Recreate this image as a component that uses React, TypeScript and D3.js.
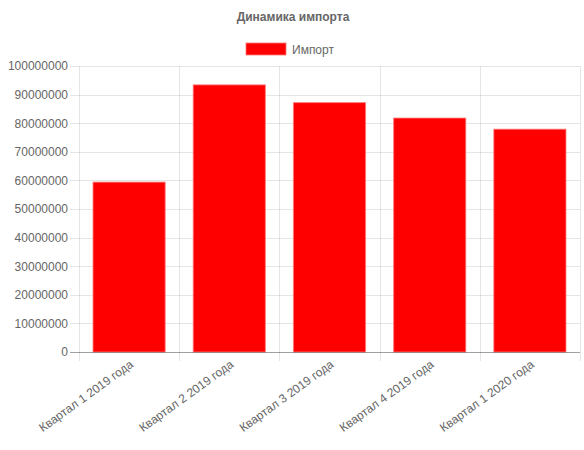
import { useEffect, useRef } from "react";
import * as d3 from "d3";

const categories = [
  "Квартал 1 2019 года",
  "Квартал 2 2019 года",
  "Квартал 3 2019 года",
  "Квартал 4 2019 года",
  "Квартал 1 2020 года",
];
const importValues = [59400000, 93400000, 87200000, 81800000, 77900000];
const yTicks = d3.range(0, 100000001, 10000000);

const FONT = "'Liberation Sans', Arial, Helvetica, sans-serif";
const W = 584;
const H = 450;

export default function App() {
  const svgRef = useRef<SVGSVGElement>(null);

  useEffect(() => {
    if (!svgRef.current) return;
    const svg = d3.select(svgRef.current);
    svg.selectAll("*").remove();

    const margin = { top: 66, right: 4, bottom: 98, left: 79 };
    const innerW = W - margin.left - margin.right;
    const innerH = H - margin.top - margin.bottom;

    // title
    svg
      .append("text")
      .attr("x", W / 2 + 1)
      .attr("y", 21)
      .attr("text-anchor", "middle")
      .attr("fill", "#666")
      .attr("font-size", "12px")
      .attr("font-weight", "bold")
      .attr("font-family", FONT)
      .text("Динамика импорта");

    // legend
    svg
      .append("rect")
      .attr("x", 246)
      .attr("y", 43)
      .attr("width", 40)
      .attr("height", 12)
      .attr("fill", "#ff0000")
      .attr("stroke", "rgba(255,120,120,0.8)")
      .attr("stroke-width", 1);
    svg
      .append("text")
      .attr("x", 292)
      .attr("y", 53.5)
      .attr("fill", "#666")
      .attr("font-size", "12px")
      .attr("font-family", FONT)
      .text("Импорт");

    const g = svg
      .append("g")
      .attr("transform", `translate(${margin.left},${margin.top})`);

    const x = d3.scaleBand().domain(categories).range([0, innerW]);
    const y = d3.scaleLinear().domain([0, 100000000]).range([innerH, 0]);

    // horizontal grid + y labels
    g.append("g")
      .call(
        d3
          .axisLeft(y)
          .tickValues(yTicks)
          .tickSize(-innerW)
          .tickPadding(11)
          .tickFormat(d3.format("d"))
      )
      .call((axis) => {
        axis.select(".domain").remove();
        axis
          .selectAll(".tick line")
          .attr("x1", -9)
          .attr("stroke", "rgba(0,0,0,0.1)")
          .attr("shape-rendering", "crispEdges");
        axis
          .selectAll("text")
          .attr("fill", "#666")
          .attr("font-size", "12px")
          .attr("font-family", FONT);
      });

    // vertical grid lines at category boundaries
    const bounds = categories.map((c) => x(c)!).concat([innerW]);
    g.append("g")
      .selectAll("line")
      .data(bounds)
      .join("line")
      .attr("x1", (d) => Math.round(d) + 0.5)
      .attr("x2", (d) => Math.round(d) + 0.5)
      .attr("y1", 0)
      .attr("y2", innerH + 9)
      .attr("stroke", "rgba(0,0,0,0.1)");

    // bars
    const bw = x.bandwidth() * 0.72;
    g.selectAll("rect.bar")
      .data(importValues)
      .join("rect")
      .attr("class", "bar")
      .attr("x", (_, i) => x(categories[i])! + (x.bandwidth() - bw) / 2)
      .attr("y", (d) => y(d))
      .attr("width", bw)
      .attr("height", (d) => innerH - y(d))
      .attr("fill", "#ff0000")
      .attr("stroke", "rgba(255,120,120,0.8)")
      .attr("stroke-width", 1);

    // zero line
    g.append("line")
      .attr("x1", -9)
      .attr("x2", innerW)
      .attr("y1", innerH + 0.5)
      .attr("y2", innerH + 0.5)
      .attr("stroke", "rgba(0,0,0,0.3)");

    // x labels
    g.append("g")
      .selectAll("text")
      .data(categories)
      .join("text")
      .attr(
        "transform",
        (c) =>
          `translate(${x(c)! + x.bandwidth() / 2 + 5},${innerH + 14}) rotate(-36)`
      )
      .attr("text-anchor", "end")
      .attr("fill", "#666")
      .attr("font-size", "12px")
      .attr("font-family", FONT)
      .text((c) => c);
  }, []);

  return (
    <svg
      ref={svgRef}
      width={W}
      height={H}
      style={{ position: "absolute", left: 0, top: 0, background: "#fff" }}
    />
  );
}
